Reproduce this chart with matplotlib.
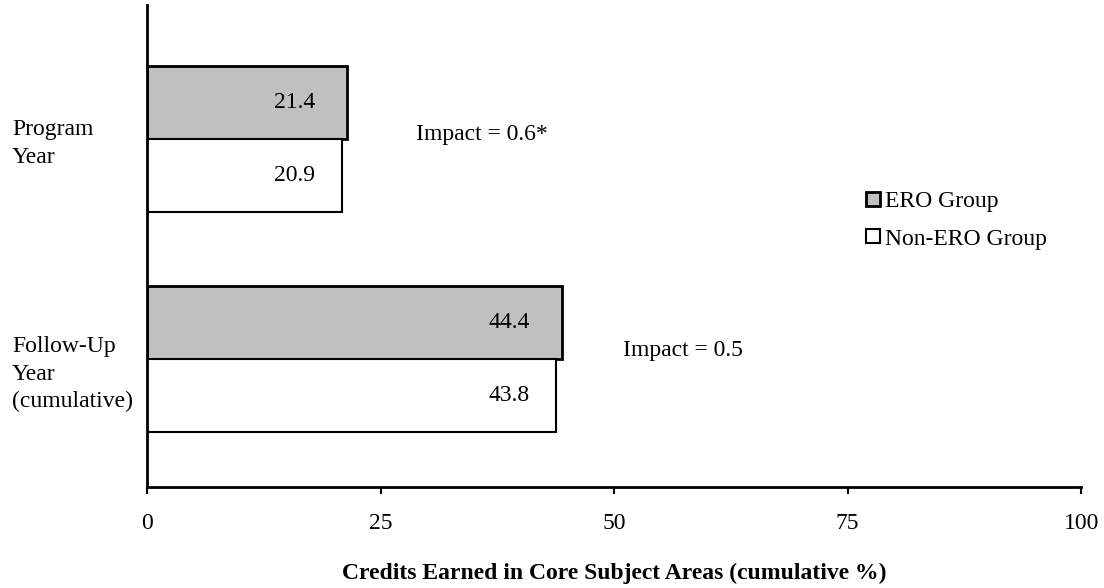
import matplotlib
matplotlib.use("Agg")
import matplotlib.pyplot as plt
import matplotlib.transforms as mtransforms
import numpy as np

plt.rcParams['font.family'] = ['Liberation Serif', 'DejaVu Serif']

# data
categories = ["Program\nYear", "Follow-Up\nYear\n(cumulative)"]
ero = [21.4, 44.4]
non_ero = [20.9, 43.8]
impacts = ["Impact = 0.6*", "Impact = 0.5"]
xticks = [0, 25, 50, 75, 100]

FS = 17

fig = plt.figure(figsize=(11.04, 5.88), dpi=100)
ax = fig.add_axes([0.1332, 0.1718, 0.8461, 0.8197])

# Program Year on top, Follow-Up below
y = np.array([1.0, 0.0])
h = 0.332
ax.barh(y + h / 2, ero, height=h, color="#c0c0c0", edgecolor="black", linewidth=2, label="ERO Group")
ax.barh(y - h / 2, non_ero, height=h, color="white", edgecolor="black", linewidth=1.5, label="Non-ERO Group")

# value labels inside the bars, right aligned a bit short of the ERO bar end
for i in range(len(categories)):
    ax.annotate(f"{ero[i]:.1f}", (ero[i], y[i] + h / 2), xytext=(-23, 0),
                textcoords="offset points", ha="right", va="center", fontsize=FS)
    ax.annotate(f"{non_ero[i]:.1f}", (ero[i], y[i] - h / 2), xytext=(-23, 0),
                textcoords="offset points", ha="right", va="center", fontsize=FS)

# impact annotations
ax.text(28.8, y[0] + 0.02, impacts[0], ha="left", va="center", fontsize=FS)
ax.text(51.0, y[1] + 0.04, impacts[1], ha="left", va="center", fontsize=FS)

# category labels at the far left (figure x, data y)
trans = mtransforms.blended_transform_factory(fig.transFigure, ax.transData)
for i, c in enumerate(categories):
    ax.text(12 / 1104, y[i] - 0.02 if i == 0 else y[i] - 0.07, c, transform=trans,
            ha="left", va="center", fontsize=FS, linespacing=1.4, clip_on=False)

ax.set_xlim(0, 100)
ax.set_ylim(-0.582, 1.609)
ax.set_xticks(xticks)
ax.set_xticklabels([str(v) for v in xticks], fontsize=FS)
ax.tick_params(axis="x", direction="out", length=5, width=1.5, pad=14)
ax.set_yticks([])
ax.spines["top"].set_visible(False)
ax.spines["right"].set_visible(False)
ax.spines["left"].set_linewidth(2)
ax.spines["bottom"].set_linewidth(2)

ax.set_xlabel("Credits Earned in Core Subject Areas (cumulative %)", fontsize=FS,
              fontweight="bold")
ax.xaxis.set_label_coords(0.5, -0.157)

ax.legend(loc="center left", bbox_to_anchor=(0.77, 0.553), frameon=False, fontsize=FS,
          handlelength=0.6, handleheight=0.55, handletextpad=0.2, labelspacing=0.7,
          borderaxespad=0, borderpad=0)

fig.savefig("out.png", dpi=100)
